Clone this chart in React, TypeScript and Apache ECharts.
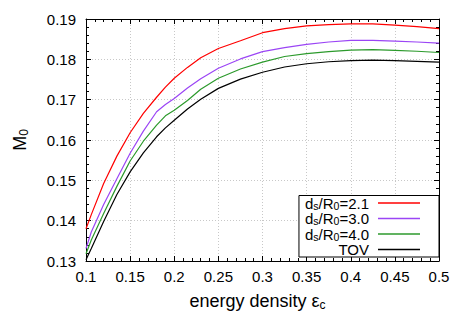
import React, { useEffect, useRef } from "react";
import * as echarts from "echarts";

const energyDensity = [0.1, 0.106, 0.12, 0.135, 0.15, 0.165, 0.18, 0.19, 0.2, 0.215, 0.23, 0.25, 0.275, 0.3, 0.325, 0.35, 0.375, 0.4, 0.425, 0.45, 0.475, 0.5];

const massDs21 = [0.138, 0.1415, 0.1492, 0.156, 0.1618, 0.1666, 0.1706, 0.1731, 0.1753, 0.178, 0.1804, 0.1827, 0.1846, 0.1866, 0.1876, 0.1883, 0.1886, 0.1888, 0.1888, 0.1885, 0.1881, 0.1876];
const massDs30 = [0.1331, 0.1372, 0.144, 0.1504, 0.1567, 0.1622, 0.167, 0.1688, 0.1703, 0.1729, 0.1752, 0.1778, 0.1801, 0.1819, 0.1829, 0.1837, 0.1843, 0.1847, 0.1847, 0.1845, 0.1843, 0.184];
const massDs40 = [0.1318, 0.1352, 0.1418, 0.1485, 0.1548, 0.1597, 0.1637, 0.166, 0.1674, 0.1698, 0.1726, 0.1753, 0.1776, 0.1793, 0.1807, 0.1814, 0.1819, 0.1823, 0.1824, 0.1822, 0.182, 0.1817];
const massTOV = [0.1303, 0.1331, 0.1398, 0.1465, 0.1521, 0.1568, 0.1608, 0.163, 0.1649, 0.1677, 0.1701, 0.1728, 0.1751, 0.1768, 0.1781, 0.1789, 0.1794, 0.1797, 0.1798, 0.1797, 0.1795, 0.1793];

const seriesNames = ["d_s/R_0=2.1", "d_s/R_0=3.0", "d_s/R_0=4.0", "TOV"];
const seriesLabels = ["d{sub|s}/R{sub|0}=2.1", "d{sub|s}/R{sub|0}=3.0", "d{sub|s}/R{sub|0}=4.0", "TOV"];
const seriesColors = ["#ff0000", "#9b45f5", "#2c9a2c", "#000000"];
const seriesValues = [massDs21, massDs30, massDs40, massTOV];

const FONT = "Liberation Sans, Arial, Helvetica, sans-serif";

export default function App() {
  const ref = useRef<HTMLDivElement>(null);
  useEffect(() => {
    if (!ref.current) return;
    const chart = echarts.init(ref.current, null, { renderer: "svg" });
    const subRich = { sub: { fontSize: 10.5, padding: [5, 0, 0, 0], fontFamily: FONT, color: "#000" } };
    const titleSub = { sub: { fontSize: 12, padding: [9, 0, 0, 0], fontFamily: FONT, color: "#000" } };
    const tickCommon = { show: true, inside: true, length: 5, lineStyle: { color: "#000", width: 1 } };
    const minorCommon = { show: true, splitNumber: 5, length: 3, lineStyle: { color: "#000", width: 1 } };
    const option: any = {
      animation: false,
      backgroundColor: "#fff",
      grid: { left: 86, right: 28, top: 19, bottom: 66, containLabel: false },
      legend: {
        orient: "vertical",
        right: 28,
        bottom: 70,
        align: "right",
        icon: "rect",
        itemWidth: 42,
        itemHeight: 1.3,
        itemGap: 0,
        padding: [0, 19, 0, 6],
        borderColor: "#000",
        borderWidth: 1,
        backgroundColor: "#fff",
        data: seriesNames,
        formatter: (name: string) => seriesLabels[seriesNames.indexOf(name)],
        textStyle: { fontSize: 15, fontFamily: FONT, color: "#000", padding: [0, 4, 0, 0], rich: subRich },
      },
      xAxis: [
        {
          type: "value",
          min: 0.1,
          max: 0.5,
          interval: 0.05,
          position: "bottom",
          name: "energy density \u03b5{sub|c}",
          nameLocation: "middle",
          nameGap: 29,
          nameTextStyle: { fontSize: 18, fontFamily: FONT, color: "#000", padding: [0, 10, 0, 0], rich: titleSub },
          axisLine: { show: true, onZero: false, lineStyle: { color: "#000", width: 1 } },
          axisTick: tickCommon,
          minorTick: minorCommon,
          axisLabel: { fontSize: 15, fontFamily: FONT, color: "#000", margin: 8 },
          splitLine: { show: true, lineStyle: { color: "#c8c8c8", type: [1, 2], width: 1 } },
        },
        {
          type: "value",
          min: 0.1,
          max: 0.5,
          interval: 0.05,
          position: "top",
          axisLine: { show: true, onZero: false, lineStyle: { color: "#000", width: 1 } },
          axisTick: tickCommon,
          minorTick: minorCommon,
          axisLabel: { show: false },
          splitLine: { show: false },
        },
      ],
      yAxis: [
        {
          type: "value",
          min: 0.13,
          max: 0.19,
          interval: 0.01,
          position: "left",
          name: "M{sub|0}",
          nameLocation: "middle",
          nameGap: 56,
          nameTextStyle: { fontSize: 18, fontFamily: FONT, color: "#000", rich: titleSub },
          axisLine: { show: true, onZero: false, lineStyle: { color: "#000", width: 1 } },
          axisTick: tickCommon,
          minorTick: minorCommon,
          axisLabel: { fontSize: 15, fontFamily: FONT, color: "#000", margin: 10, formatter: (v: number) => v.toFixed(2) },
          splitLine: { show: true, lineStyle: { color: "#c8c8c8", type: [1, 2], width: 1 } },
        },
        {
          type: "value",
          min: 0.13,
          max: 0.19,
          interval: 0.01,
          position: "right",
          axisLine: { show: true, onZero: false, lineStyle: { color: "#000", width: 1 } },
          axisTick: tickCommon,
          minorTick: minorCommon,
          axisLabel: { show: false },
          splitLine: { show: false },
        },
      ],
      series: seriesNames.map((name, i) => ({
        name,
        type: "line",
        xAxisIndex: 0,
        yAxisIndex: 0,
        symbol: "none",
        smooth: false,
        color: seriesColors[i],
        lineStyle: { color: seriesColors[i], width: 1.2 },
        data: energyDensity.map((x, j) => [x, seriesValues[i][j]]),
        z: 10 - i,
      })),
    };
    chart.setOption(option);
    return () => chart.dispose();
  }, []);
  return <div ref={ref} style={{ position: "fixed", left: 0, top: 0, width: 467, height: 327, background: "#fff" }} />;
}
